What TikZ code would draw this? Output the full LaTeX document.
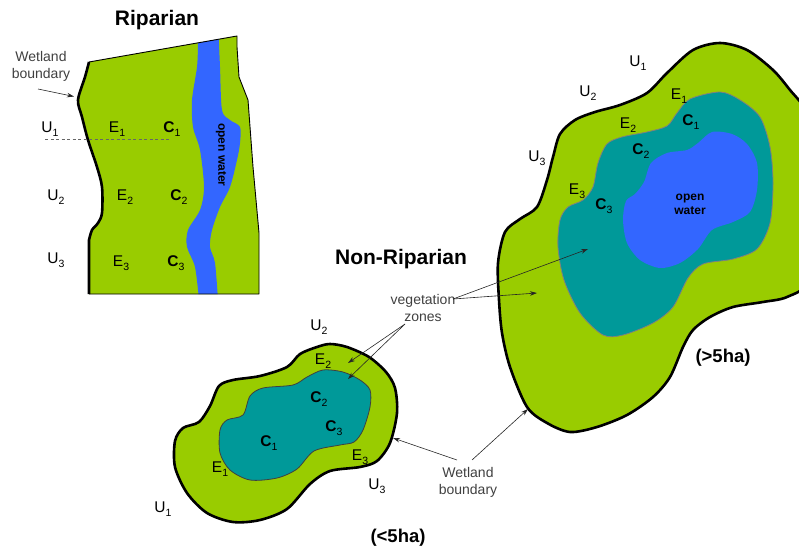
\documentclass[tikz,border=0pt]{standalone}
\usepackage{fontspec}
\setmainfont{Liberation Sans}
\usetikzlibrary{arrows.meta}
\definecolor{veg}{HTML}{99CC00}
\definecolor{tealz}{HTML}{009999}
\definecolor{water}{HTML}{3366FF}
\definecolor{notegray}{HTML}{404040}
\newcommand{\zl}[2]{#1\raisebox{-4.5pt}{\fontsize{10.5}{10.5}\selectfont\mdseries #2}}
\newcommand{\riparianpath}{(89,62) -- (237,36) -- (237,47) -- (239,77) -- (248,100) -- (253,167) -- (259,233) -- (259,294) -- (89,294) -- (89,240) -- plot[smooth] coordinates {(89,240)(92,230)(98,223)(102,213)(102,187)(97,167)(88,140)(82,117)(78,100)(85,77)(89,62)} -- cycle}
\tikzset{
 zone/.style={font=\fontsize{15.5}{15.5}\selectfont, inner sep=0pt},
 czone/.style={font=\fontsize{15.5}{15.5}\selectfont\bfseries, inner sep=0pt},
 titletext/.style={font=\fontsize{21}{21}\selectfont\bfseries, inner sep=0pt},
 sizetext/.style={font=\fontsize{18.5}{18.5}\selectfont\bfseries, inner sep=0pt},
 watertext/.style={font=\fontsize{12}{14}\selectfont\bfseries, align=center, inner sep=0pt},
 notetext/.style={font=\fontsize{14}{17}\selectfont, text=notegray, align=center, inner sep=0pt},
 ptr/.style={-{Stealth[length=7pt,width=4.5pt]}, line width=0.6pt, draw=black!85},
 bound/.style={line width=2.6pt, line join=round},
 innerline/.style={line width=0.8pt},
}
\begin{document}
\begin{tikzpicture}[x=1pt,y=-1pt]
\useasboundingbox (0,0) rectangle (799,548);
% ---------------- Riparian ----------------
\fill[veg] \riparianpath;
\begin{scope}
\clip \riparianpath;
\fill[water] plot[smooth] coordinates {(198,20)(198,43)(197,67)(192,100)(193,127)(200,150)(204,187)(200,210)(188,230)(187,247)(195,267)(199,300)}
  -- plot[smooth] coordinates {(218,300)(215,263)(210,247)(212,230)(220,207)(230,187)(237,160)(240,143)(240,127)(230,120)(222,110)(220,67)(218,20)} -- cycle;
\end{scope}
\draw[line width=0.9pt, line join=round] (89,62) -- (237,36) -- (237,47) -- (239,77) -- (248,100) -- (253,167) -- (259,233) -- (259,294) -- (89,294);
\draw[bound] plot[smooth] coordinates {(89,62)(85,77)(78,100)(82,117)(88,140)(97,167)(102,187)(102,213)(98,223)(92,230)(89,240)} -- (89,294);
\coordinate (dashA) at (45,139.5);
\coordinate (dashB) at (170,139.5);
\draw[black!60, line width=0.9pt, dash pattern=on 3pt off 2.5pt] (dashA) -- (dashB);
\node[titletext] (riptitle) at (157,20) {Riparian};
\node[notetext] (ripwb) at (41,66) {Wetland\\boundary};
\coordinate (ripwbs) at (38,89);
\coordinate (ripwbt) at (74,96.5);
\draw[ptr] (ripwbs) -- (ripwbt);
\node[zone] (rU1) at (50,129) {\zl{U}{1}};
\node[zone] (rE1) at (117,129) {\zl{E}{1}};
\node[czone] (rC1) at (172,129) {\zl{C}{1}};
\node[zone] (rU2) at (56,197) {\zl{U}{2}};
\node[zone] (rE2) at (125,197) {\zl{E}{2}};
\node[czone] (rC2) at (179,197) {\zl{C}{2}};
\node[zone] (rU3) at (56,260) {\zl{U}{3}};
\node[zone] (rE3) at (121,263) {\zl{E}{3}};
\node[czone] (rC3) at (176,263) {\zl{C}{3}};
\node[watertext, rotate=-90] (ripow) at (221,155) {open water};
% ---------------- Large non-riparian ----------------
\begin{scope}
\clip (0,0) rectangle (799,548);
\draw[bound, fill=veg] plot[smooth cycle] coordinates {(720,43)(747,50)(773,70)(790,90)(805,110)(815,150)(817,220)(810,280)(787,297)(763,302)(733,307)(710,317)(693,330)(683,347)(670,377)(653,397)(627,415)(597,427)(570,432)(547,423)(527,407)(510,367)(502,333)(499,300)(498,263)(505,232)(520,219)(537,207)(547,180)(553,157)(560,134)(575,120)(595,112)(620,105)(647,93)(667,73)(693,50)};
\draw[fill=tealz, draw=gray, innerline] plot[smooth cycle] coordinates {(720,92)(740,100)(760,117)(770,147)(773,183)(770,223)(757,249)(733,259)(703,264)(688,278)(673,307)(653,323)(623,335)(603,335)(580,313)(564,280)(558,247)(560,220)(568,207)(583,200)(593,187)(598,163)(607,144)(622,137)(647,132)(667,126)(677,113)(690,99)};
\fill[water] plot[smooth cycle] coordinates {(712,132)(732,134)(747,144)(757,163)(757,190)(750,212)(733,222)(712,230)(698,249)(680,263)(660,268)(640,260)(627,243)(623,220)(626,201)(635,194)(644,182)(651,163)(667,153)(687,150)(698,143)};
\end{scope}
\node[zone] (bU1) at (638,63) {\zl{U}{1}};
\node[zone] (bU2) at (588,93) {\zl{U}{2}};
\node[zone] (bE1) at (679,96) {\zl{E}{1}};
\node[czone] (bC1) at (691,122) {\zl{C}{1}};
\node[zone] (bE2) at (628,125) {\zl{E}{2}};
\node[czone] (bC2) at (641,151) {\zl{C}{2}};
\node[zone] (bU3) at (537,158) {\zl{U}{3}};
\node[zone] (bE3) at (577,191) {\zl{E}{3}};
\node[czone] (bC3) at (604,206) {\zl{C}{3}};
\node[watertext] (bigow) at (690,204) {open\\water};
\node[sizetext] (bigsize) at (723,358) {(>5ha)};
% ---------------- Small non-riparian ----------------
\draw[bound, fill=veg] plot[smooth cycle] coordinates {(317,347)(300,354)(287,367)(260,376)(233,380)(219,386)(210,406)(199,422)(183,428)(175,441)(175,467)(187,493)(207,513)(233,522)(260,520)(287,509)(310,484)(330,471)(360,467)(377,461)(390,443)(397,413)(395,388)(386,372)(369,357)(347,347)(330,344)};
\draw[fill=tealz, draw=black!75, innerline] plot[smooth cycle] coordinates {(323,370)(307,377)(293,385)(263,388)(250,396)(243,415)(227,420)(220,430)(220,453)(230,470)(250,480)(277,478)(297,469)(314,451)(340,445)(354,442)(363,430)(370,407)(370,390)(360,380)(343,372)};
\node[zone] (sU2) at (319,327) {\zl{U}{2}};
\node[zone] (sE2) at (323,361) {\zl{E}{2}};
\node[czone] (sC2) at (319,399) {\zl{C}{2}};
\node[czone] (sC3) at (334,428) {\zl{C}{3}};
\node[czone] (sC1) at (269,443) {\zl{C}{1}};
\node[zone] (sE1) at (220,469) {\zl{E}{1}};
\node[zone] (sE3) at (360,457) {\zl{E}{3}};
\node[zone] (sU3) at (377,486) {\zl{U}{3}};
\node[zone] (sU1) at (163,509) {\zl{U}{1}};
\node[sizetext] (smallsize) at (398,538) {(<5ha)};
% ---------------- Annotations ----------------
\node[titletext] (nrtitle) at (401,259) {Non-Riparian};
\node[notetext] (vegz) at (423,308) {vegetation\\zones};
\coordinate (vegzR) at (453,299);
\coordinate (vegzD) at (405,324);
\coordinate (vegT1) at (588,249);
\coordinate (vegT2) at (537,293);
\coordinate (vegT3) at (348,363);
\coordinate (vegT4) at (348,379);
\draw[ptr] (vegzR) -- (vegT1);
\draw[ptr] (vegzR) -- (vegT2);
\draw[ptr] (vegzD) -- (vegT3);
\draw[ptr] (vegzD) -- (vegT4);
\node[notetext] (nrwb) at (468,482) {Wetland\\boundary};
\coordinate (nrwbL) at (457,460);
\coordinate (nrwbR) at (472,460);
\coordinate (nrwbT1) at (393,438);
\coordinate (nrwbT2) at (528,409);
\draw[ptr] (nrwbL) -- (nrwbT1);
\draw[ptr] (nrwbR) -- (nrwbT2);
\end{tikzpicture}
\end{document}
